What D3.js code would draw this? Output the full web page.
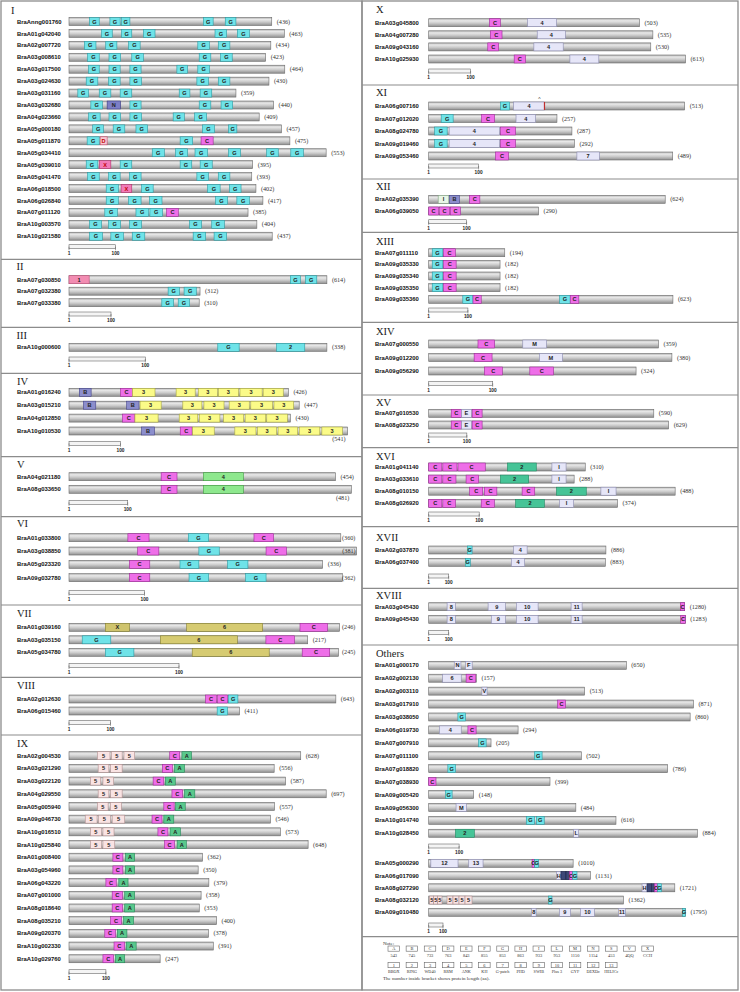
<!DOCTYPE html>
<html><head><meta charset="utf-8">
<script src="https://cdn.jsdelivr.net/npm/d3@7"></script>
<style>body{margin:0;background:#fff}</style></head>
<body><svg id="c" width="740" height="992"></svg>
<script>
// ---------------- DATA (protein name, length aa, domains [label,start,end,(styleKey)]) ----------------
const groupI = [
 ["BraAnng001760",436,[["G",44,65],["G",88,110],["G",113,131],["G",289,310],["G",336,359]]],
 ["BraA01g042040",463,[["G",70,93],["G",113,135],["G",160,185],["G",314,339],["G",362,388]]],
 ["BraA02g007720",434,[["G",33,58],["G",79,103],["G",128,153],["G",277,302],["G",321,346]]],
 ["BraA03g008610",423,[["G",40,65],["G",86,111],["G",135,160],["G",280,305],["G",326,351]]],
 ["BraA03g017500",464,[["G",42,65],["G",86,110],["G",131,155],["G",232,255],["G",277,302]]],
 ["BraA03g024630",430,[["G",37,62],["G",85,110],["G",131,156],["G",275,300],["G",321,346]]],
 ["BraA03g031160",359,[["G",19,42],["G",65,90],["G",110,135],["G",237,260],["G",282,307]]],
 ["BraA03g032680",440,[["G",47,72],["N",82,111],["G",131,155],["G",280,305],["G",327,352]]],
 ["BraA04g023660",409,[["G",42,67],["G",86,111],["G",131,156],["G",224,248],["G",270,296]]],
 ["BraA05g000180",457,[["G",51,74],["G",95,120],["G",144,169],["G",287,313],["G",343,361]]],
 ["BraA05g011870",475,[["G",39,65],["D",67,82],["G",239,266],["C",284,310]]],
 ["BraA05g034410",553,[["G",179,205],["G",229,255],["G",271,298],["G",343,369],["G",425,450],["G",477,504]]],
 ["BraA05g039010",395,[["G",37,62],["X",65,90],["G",110,135],["G",239,264],["G",282,308]]],
 ["BraA05g041470",393,[["G",40,65],["G",85,110],["G",130,155],["G",275,300],["G",321,346]]],
 ["BraA06g018500",402,[["G",80,106],["X",112,135],["G",156,181],["G",298,325],["G",345,370]]],
 ["BraA06g026840",417,[["G",80,106],["G",128,155],["G",173,200],["G",315,341],["G",361,388]]],
 ["BraA07g011120",385,[["G",77,104],["G",144,171],["G",174,201],["C",210,235]]],
 ["BraA10g003570",404,[["G",44,70],["G",85,111],["G",130,156],["G",259,285],["G",307,334]]],
 ["BraA10g021580",437,[["G",44,72],["G",90,117],["G",136,163],["G",267,294],["G",312,339]]]
];
const groupII = [
 ["BraA07g030850",614,[["1",0,48],["G",527,551],["G",563,590]]],
 ["BraA07g032380",312,[["G",236,263],["G",274,303]]],
 ["BraA07g033380",310,[["G",221,249],["G",260,287]]]
];
const groupIII = [
 ["BraA10g000600",338,[["G",195,223],["2",272,309]]]
];
const groupIV = [
 ["BraA01g016240",426,[["B",20,43],["C",100,123],["3",123,167],["3",208,245],["3",251,288],["3",290,329],["3",332,375],["3",377,416]]],
 ["BraA03g015210",447,[["B",28,52],["B",112,136],["3",138,179],["3",221,258],["3",262,301],["3",311,350],["3",353,395],["3",398,436]]],
 ["BraA04g012850",430,[["C",104,128],["3",128,173],["3",214,250],["3",253,293],["3",300,339],["3",342,382],["3",384,424]]],
 ["BraA10g010530",541,[["B",141,166],["C",216,239],["3",240,282],["3",322,363],["3",366,403],["3",406,444],["3",447,487],["3",491,531]]]
];
const groupV = [
 ["BraA04g021180",454,[["C",157,184],["4",229,297]]],
 ["BraA08g033650",481,[["C",157,184],["4",229,297]]]
];
const groupVI = [
 ["BraA01g033800",360,[["C",78,106],["G",158,185],["C",245,271]]],
 ["BraA03g038850",381,[["C",91,119],["G",172,199],["C",261,288]]],
 ["BraA05g023320",336,[["C",80,107],["G",147,172],["G",210,237]]],
 ["BraA09g032780",362,[["C",80,107],["G",159,185],["G",234,261]]]
];
const groupVII = [
 ["BraA01g039160",246,[["X",33,55],["6",107,176],["C",210,235]]],
 ["BraA03g035150",217,[["G",12,38],["6",83,153],["C",179,205]]],
 ["BraA05g034780",245,[["G",33,59],["6",112,182],["C",212,237]]]
];
const groupVIII = [
 ["BraA02g012630",643,[["C",329,355],["C",358,382],["G",384,407]]],
 ["BraA06g015460",411,[["G",357,382]]]
];
const groupIX = [
 ["BraA02g004530",628,[["5",77,111],["5",115,144],["5",149,178],["C",273,300],["A",306,332]]],
 ["BraA03g021290",556,[["5",79,108],["5",113,144],["C",253,280],["A",286,313]]],
 ["BraA03g022120",587,[["5",58,86],["5",92,121],["C",228,257],["A",261,288]]],
 ["BraA04g029550",697,[["5",79,108],["5",113,144],["C",279,308],["A",313,341]]],
 ["BraA05g005940",557,[["5",77,106],["5",112,142],["C",257,285],["A",289,315]]],
 ["BraA09g046730",546,[["5",44,76],["5",80,112],["5",117,151],["C",225,252],["A",257,284]]],
 ["BraA10g016510",573,[["5",58,88],["5",92,122],["C",241,268],["A",274,302]]],
 ["BraA10g025840",648,[["5",58,88],["5",92,124],["C",259,286],["A",293,318]]],
 ["BraA01g008400",362,[["C",119,146],["A",153,178]]],
 ["BraA03g054960",350,[["C",119,146],["A",153,178]]],
 ["BraA06g043220",379,[["C",100,128],["A",135,160]]],
 ["BraA07g001000",358,[["C",117,145],["A",151,178]]],
 ["BraA08g018640",353,[["C",117,145],["A",151,178]]],
 ["BraA08g035210",400,[["C",113,142],["A",148,175]]],
 ["BraA09g020370",378,[["C",97,126],["A",131,157]]],
 ["BraA10g002330",391,[["C",122,151],["A",155,182]]],
 ["BraA10g029760",247,[["C",92,121],["A",126,151]]]
];
const groupX = [
 ["BraA03g045800",503,[["C",145,171],["4",236,305]]],
 ["BraA04g007280",535,[["C",147,175],["4",259,326]]],
 ["BraA09g043160",530,[["C",141,167],["4",251,321]]],
 ["BraA10g025930",613,[["C",204,231],["4",337,406]]]
];
const groupXI = [
 ["BraA06g007160",513,[["G",144,162],["4",170,232]]],
 ["BraA07g012020",257,[["G",25,49],["C",106,132],["4",175,214]]],
 ["BraA08g024780",287,[["G",12,37],["4",41,142],["C",144,174]]],
 ["BraA09g019460",292,[["G",12,37],["4",41,142],["C",144,174]]],
 ["BraA09g053460",489,[["C",134,160],["7",297,342]]]
];
const groupXII = [
 ["BraA02g035390",624,[["I",25,53],["B",55,81],["C",108,135]]],
 ["BraA06g039050",290,[["C",0,26],["C",29,55],["C",57,84]]]
];
const groupXIII = [
 ["BraA07g011110",194,[["G",9,36],["C",38,68]]],
 ["BraA09g035330",182,[["G",9,36],["C",38,70]]],
 ["BraA09g035340",182,[["G",9,36],["C",38,70]]],
 ["BraA09g035350",182,[["G",9,36],["C",38,70]]],
 ["BraA09g035360",623,[["G",87,113],["C",113,134],["G",334,361],["C",361,383]]]
];
const groupXIV = [
 ["BraA07g000550",359,[["C",77,103],["M",147,184]]],
 ["BraA09g012200",380,[["C",71,99],["M",173,209]]],
 ["BraA09g056290",324,[["C",87,115],["C",158,195]]]
];
const groupXV = [
 ["BraA07g010530",590,[["C",59,86],["E",86,112],["C",114,140]]],
 ["BraA08g023250",629,[["C",59,86],["E",86,112],["C",114,140]]]
];
const groupXVI = [
 ["BraA01g041140",310,[["C",0,26],["C",28,56],["C",58,112],["2",156,213],["I",244,272]]],
 ["BraA03g033610",288,[["C",0,26],["C",28,54],["C",74,99],["2",142,198],["I",244,272]]],
 ["BraA08g010150",488,[["C",81,107],["C",110,135],["C",185,210],["2",253,312],["I",341,371]]],
 ["BraA08g026920",374,[["C",0,26],["C",28,53],["C",104,130],["2",172,229],["I",259,287]]]
];
const groupXVII = [
 ["BraA02g037870",886,[["G",193,217],["4",425,492]]],
 ["BraA06g037400",883,[["G",183,208],["4",413,480]]]
];
const groupXVIII = [
 ["BraA03g045430",1280,[["8",92,133],["9",297,383],["10",438,547],["11",712,767],["C",1258,1280]]],
 ["BraA09g045430",1283,[["8",92,133],["9",313,383],["10",438,547],["11",712,767],["C",1260,1283]]]
];
const groupOthers = [
 ["BraA01g000170",650,[["N",84,106],["F",121,143]]],
 ["BraA02g002130",157,[["6",46,107],["C",123,154]]],
 ["BraA02g003110",513,[["V",175,192]]],
 ["BraA03g017910",871,[["C",424,450]]],
 ["BraA03g038050",860,[["G",96,121]]],
 ["BraA06g019730",294,[["4",35,107],["C",129,156]]],
 ["BraA07g007910",205,[["G",164,189]]],
 ["BraA07g011100",502,[["G",348,373]]],
 ["BraA07g018820",786,[["G",63,88]]],
 ["BraA07g038930",399,[["C",0,24]]],
 ["BraA09g005420",148,[["G",55,77]]],
 ["BraA09g056300",484,[["M",90,124]]],
 ["BraA10g014740",616,[["G",321,348],["G",354,380]]],
 ["BraA10g028450",884,[["2",88,150],["L",477,493]]]
];
const groupOthersLong = [
 ["BraA05g000290",1010,[["12",15,205],["13",280,380],["C",723,741],["G",741,769]]],
 ["BraA06g017090",1131,[["H",893,925],["",925,960,"dk"],["",960,984,"dk"],["C",984,1007],["G",1007,1037]]],
 ["BraA08g027290",1721,[["H",1492,1527],["",1527,1557,"dk"],["",1557,1578,"dk"],["C",1578,1601],["G",1601,1627]]],
 ["BraA08g032120",1362,[["5",7,35],["5",35,63],["5",63,93],["5",128,170],["5",170,212],["5",212,254],["5",254,303],["G",839,862]]],
 ["BraA09g010480",1795,[["8",718,751],["9",914,991],["10",1061,1159],["11",1329,1375],["G",1776,1795]]]
];
const legendLetters = ["A","B","C","D","E","F","G","H","I","L","M","N","S","V","X"];
const legendCodes   = ["543","745","733","763","843","855","853","863","933","953","1150","1154","453","4QQ","CCH"];
const legendNumbers = ["1","2","3","4","5","6","7","8","9","10","11","12","13"];
const legendNames   = ["BBOX","RING","WD40","RRM","ANK","KH","G-patch","PHD","SWIB","Plus 3","GYF","DEXDc","HELICc"];

// ---------------- STYLE / LAYOUT ----------------
const lav = ["#e6e6f8","#8a8ab0"];
const baseColors = {
  G:["#6fe3e8","#2a9aa2"], C:["#ee6ee8","#9e2a98"], X:["#f27ab8","#b0306a"], D:["#f7c9d3","#cc4466"],
  N:lav, B:["#8c8ecc","#44448a"], "1":["#f28cb2","#c0507a"], "2":["#46c497","#1f8a62"],
  "3":["#fbfb88","#a6a640"], "4":lav, "5":["#f9e3e3","#b08f8f"], "6":lav, "7":lav,
  A:["#5ac88c","#25885a"], dk:["#3e4878","#1c2448"], I:lav, M:lav, E:lav, F:lav, V:lav, L:lav, H:lav
};
const overrides = {
  I:{N:["#7c7ec6","#3a3a80"]}, III:{"2":["#6fe3e8","#2a9aa2"]}, V:{"4":["#8ee88e","#3fa03f"]},
  VII:{X:["#cfc46e","#858030"],"6":["#d6cb72","#858030"]}, XII:{I:["#e8f6e6","#7fa07f"]}
};
const textColor = {X:"#c00000", D:"#c00000"};

const cols = [
  {x0:69, nameX:17, left:1, right:362},
  {x0:428.7, nameX:375, left:362, right:738}
];
const layout = [
 {name:"I", data:groupI, col:0, labelX:11, labelY:10, row0:21.5, step:11.93, scaleY:246.7, px100:46.5},
 {name:"II", data:groupII, col:0, labelX:16.5, labelY:265.7, row0:279.7, step:11.5, scaleY:314, px100:42},
 {name:"III", data:groupIII, col:0, labelX:16.5, labelY:335, row0:347.3, step:12, scaleY:359, px100:76.3},
 {name:"IV", data:groupIV, col:0, labelX:17, labelY:381, row0:392.3, step:12.9, scaleY:443.3, px100:51.5},
 {name:"V", data:groupV, col:0, labelX:17, labelY:464, row0:476.7, step:12.6, scaleY:502.3, px100:58.7},
 {name:"VI", data:groupVI, col:0, labelX:17, labelY:523.3, row0:537.7, step:13.33, scaleY:592.3, px100:75.5},
 {name:"VII", data:groupVII, col:0, labelX:17, labelY:613.3, row0:627.3, step:12.5, scaleY:665.5, px100:110},
 {name:"VIII", data:groupVIII, col:0, labelX:17, labelY:685, row0:699, step:12, scaleY:722.3, px100:41.5},
 {name:"IX", data:groupIX, col:0, labelX:17, labelY:742.7, row0:755.7, step:12.69, scaleY:971.7, px100:36.9},
 {name:"X", data:groupX, col:1, labelX:376, labelY:9.3, row0:22.7, step:12.1, scaleY:71, px100:41.9},
 {name:"XI", data:groupXI, col:1, labelX:376, labelY:92, row0:106, step:12.5, scaleY:166, px100:49.9},
 {name:"XII", data:groupXII, col:1, labelX:376, labelY:186.5, row0:199.3, step:11.7, scaleY:221.7, px100:37.9},
 {name:"XIII", data:groupXIII, col:1, labelX:376, labelY:241, row0:252.7, step:11.65, scaleY:310, px100:39.2},
 {name:"XIV", data:groupXIV, col:1, labelX:376, labelY:330.7, row0:344, step:13.5, scaleY:383.3, px100:64},
 {name:"XV", data:groupXV, col:1, labelX:376, labelY:402.3, row0:413.3, step:11.7, scaleY:435, px100:38.15},
 {name:"XVI", data:groupXVI, col:1, labelX:376, labelY:455.7, row0:467, step:12.1, scaleY:514, px100:50.5},
 {name:"XVII", data:groupXVII, col:1, labelX:376, labelY:536.7, row0:550, step:12.3, scaleY:576, px100:20},
 {name:"XVIII", data:groupXVIII, col:1, labelX:376, labelY:595, row0:606.7, step:12.6, scaleY:632.3, px100:20},
 {name:"Others", data:groupOthers, col:1, labelX:376, labelY:652.7, row0:665.3, step:12.92, scaleY:846, px100:30.4},
 {name:"", data:groupOthersLong, col:1, labelX:376, labelY:0, row0:863.3, step:12.25, scaleY:925, px100:14.3}
];
const dividers = [
  {col:0, ys:[259.3,327.3,373.3,456.7,516.7,605,677.3,735]},
  {col:1, ys:[85,179,232.3,322.3,395,447.7,526.7,588.3,645,936.7]}
];

// ---------------- DRAW ----------------
const svg = d3.select("#c");
const defs = svg.append("defs");
const grad = defs.append("linearGradient").attr("id","barg").attr("x1",0).attr("y1",0).attr("x2",0).attr("y2",1);
[[0,"#b0b0b0"],[0.25,"#e8e8e8"],[0.55,"#cccccc"],[1,"#8f8f8f"]].forEach(([o,c])=>grad.append("stop").attr("offset",o).attr("stop-color",c));

cols.forEach(c=>{
  svg.append("rect").attr("x",c.left).attr("y",1).attr("width",c.right-c.left).attr("height",989)
    .attr("fill","none").attr("stroke","#8c8c8c").attr("stroke-width",1.3);
});
dividers.forEach(d=>{
  const c = cols[d.col];
  d.ys.forEach(y=>svg.append("line").attr("x1",c.left).attr("x2",c.right).attr("y1",y).attr("y2",y)
    .attr("stroke","#8c8c8c").attr("stroke-width",1.2));
});

const BH = 8;
layout.forEach(sec=>{
  const c = cols[sec.col];
  const x = d3.scaleLinear().domain([0,100]).range([c.x0, c.x0+sec.px100]);
  const g = svg.append("g");
  if (sec.name) g.append("text").attr("x",sec.labelX).attr("y",sec.labelY+3.8)
     .attr("font-family","'Liberation Serif',serif").attr("font-size",10.5).attr("fill","#222").text(sec.name);
  sec.data.forEach((p,i)=>{
    const [name,len,doms] = p;
    const y = sec.row0 + i*sec.step;
    const row = g.append("g");
    row.append("text").attr("x",c.nameX).attr("y",y+2.1)
      .attr("font-family","'Liberation Sans',Arial,sans-serif").attr("font-weight","bold")
      .attr("font-size",5.9).attr("fill","#111").text(name);
    row.append("rect").attr("x",x(0)).attr("y",y-BH/2).attr("width",x(len)-x(0)).attr("height",BH)
      .attr("fill","url(#barg)").attr("stroke","#6c6c6c").attr("stroke-width",0.6);
    doms.forEach(d=>{
      const [lab,s,e,key] = d;
      const k = key || lab;
      const col = (overrides[sec.name]&&overrides[sec.name][k]) || baseColors[k] || lav;
      row.append("rect").attr("x",x(s)).attr("y",y-BH/2).attr("width",Math.max(1,x(e)-x(s))).attr("height",BH)
        .attr("fill",col[0]).attr("stroke",col[1]).attr("stroke-width",0.6);
      if (lab) row.append("text").attr("x",(x(s)+x(e))/2).attr("y",y+2.1).attr("text-anchor","middle")
        .attr("font-family","'Liberation Sans',Arial,sans-serif").attr("font-weight","bold")
        .attr("font-size",5.6).attr("fill",(sec.name==="I"&&textColor[lab])||"#222").text(lab);
    });
    const ex = x(len);
    let lx, ly = y+2.1, anchor="start";
    if (ex + 16 > c.right) {
      if (ex > c.right - 8) { lx = ex - 1; anchor="end"; }
      else { lx = ex - 2; anchor="end"; ly = y + 10.3; }
    } else lx = Math.min(ex + 5, c.right - 20);
    row.append("text").attr("x",lx).attr("y",ly).attr("text-anchor",anchor)
      .attr("font-family","'Liberation Serif',serif").attr("font-size",6.2).attr("fill","#333").text("("+len+")");
    if (name==="BraA06g007160") {
      row.append("text").attr("x",x(222)).attr("y",y-4.8).attr("text-anchor","middle")
        .attr("font-family","'Liberation Sans',sans-serif").attr("font-size",5).attr("fill","#333").text("^");
      row.append("rect").attr("x",x(232)-0.6).attr("y",y-BH/2).attr("width",1.2).attr("height",BH).attr("fill","#c03030");
    }
  });
  const sy = sec.scaleY;
  g.append("rect").attr("x",x(0)).attr("y",sy-2).attr("width",x(100)-x(0)).attr("height",4)
    .attr("fill","#f4f4f4").attr("stroke","#6a6a6a").attr("stroke-width",0.6);
  [0,100].forEach(v=>g.append("line").attr("x1",x(v)).attr("x2",x(v)).attr("y1",sy).attr("y2",sy+3.5)
    .attr("stroke","#6a6a6a").attr("stroke-width",0.6));
  [[0,"1"],[100,"100"]].forEach(([v,t])=>g.append("text").attr("x",x(v)).attr("y",sy+8.3).attr("text-anchor","middle")
    .attr("font-family","'Liberation Sans',sans-serif").attr("font-weight","bold").attr("font-size",4.8).attr("fill","#222").text(t));
});

const lg = svg.append("g").attr("font-family","'Liberation Serif',serif").attr("fill","#333");
lg.append("text").attr("x",383).attr("y",944.5).attr("font-size",5).text("Note:");
const lx = d3.scaleLinear().domain([0,1]).range([388,406.13]);
legendLetters.forEach((l,i)=>{
  lg.append("rect").attr("x",lx(i)).attr("y",946).attr("width",11.5).attr("height",5.2)
    .attr("fill","#fff").attr("stroke","#666").attr("stroke-width",0.6);
  lg.append("text").attr("x",lx(i)+5.75).attr("y",950.3).attr("text-anchor","middle").attr("font-size",4.4).text(l);
  lg.append("text").attr("x",lx(i)+5.75).attr("y",956.8).attr("text-anchor","middle").attr("font-size",4.4).text(legendCodes[i]);
});
legendNumbers.forEach((n,i)=>{
  lg.append("rect").attr("x",lx(i)).attr("y",962.5).attr("width",11.5).attr("height",5.2)
    .attr("fill","#fff").attr("stroke","#666").attr("stroke-width",0.6);
  lg.append("text").attr("x",lx(i)+5.75).attr("y",966.8).attr("text-anchor","middle").attr("font-size",4.4).text(n);
  lg.append("text").attr("x",lx(i)+5.75).attr("y",973.2).attr("text-anchor","middle").attr("font-size",4.2).text(legendNames[i]);
});
lg.append("text").attr("x",383).attr("y",980).attr("font-size",5).text("The number inside bracket shows protein length (aa).");
</script></body></html>
